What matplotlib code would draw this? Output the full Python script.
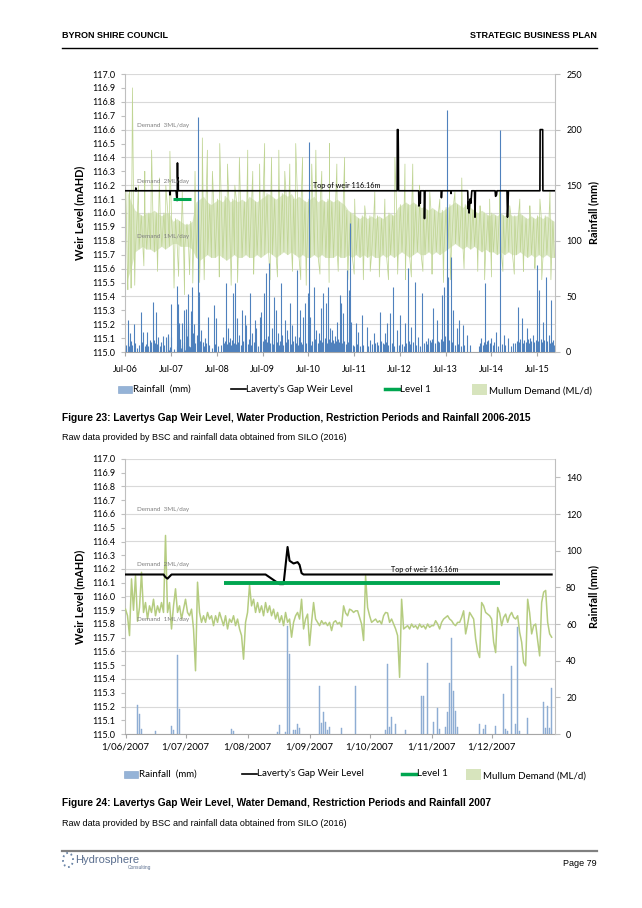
import numpy as np
import pandas as pd
import matplotlib
matplotlib.use('Agg')
import matplotlib.pyplot as plt
import matplotlib.dates as mdates
import matplotlib.transforms as mtrans
from matplotlib.lines import Line2D
from matplotlib.patches import Rectangle, Circle
from matplotlib.ticker import FuncFormatter, MultipleLocator

plt.rcParams['font.family'] = ['Lato', 'DejaVu Sans']

# ---------------- Figure 24 data (daily, June - December 2007) ----------------
rain2_dates = ['2007-06-07', '2007-06-08', '2007-06-09', '2007-06-16', '2007-06-24', '2007-06-25',
               '2007-06-27', '2007-06-28', '2007-07-24', '2007-07-25', '2007-08-16', '2007-08-17',
               '2007-08-20', '2007-08-21', '2007-08-22', '2007-08-24', '2007-08-25', '2007-08-26',
               '2007-08-27', '2007-09-06', '2007-09-07', '2007-09-08', '2007-09-09', '2007-09-10',
               '2007-09-11', '2007-09-17', '2007-09-24', '2007-10-09', '2007-10-10', '2007-10-11',
               '2007-10-12', '2007-10-14', '2007-10-19', '2007-10-27', '2007-10-28', '2007-10-30',
               '2007-11-02', '2007-11-04', '2007-11-05', '2007-11-08', '2007-11-09', '2007-11-10',
               '2007-11-11', '2007-11-12', '2007-11-13', '2007-11-14', '2007-11-25', '2007-11-27',
               '2007-11-28', '2007-12-03', '2007-12-07', '2007-12-08', '2007-12-09', '2007-12-11',
               '2007-12-13', '2007-12-14', '2007-12-15', '2007-12-19', '2007-12-27', '2007-12-28',
               '2007-12-29', '2007-12-30', '2007-12-31']
rain2_mm = [15.8, 11, 3, 1.5, 4.5, 2, 43, 13.5, 3, 1.5, 1, 5,
            1, 59, 43.5, 2, 2, 5.5, 3.5, 26, 6, 12, 6.7, 2,
            4, 3.5, 26.3, 2, 38, 4, 9.4, 5.7, 2, 21, 21, 39,
            6.6, 14, 2.8, 4, 12, 27.8, 52.5, 23.4, 12.5, 3.6, 5.3, 3,
            4.8, 4.4, 21.6, 2.5, 1.5, 37.2, 5.2, 58.4, 1.5, 8.9, 17.3, 3.5,
            15.4, 3.5, 24.9]

# Mullum demand (ML/d), one value per day from 1 June 2007
demand2 = [1.27, 1.15, 0.79, 1.82, 1.25, 1.88, 1.05, 1.30, 1.94, 1.21,
           1.39, 1.09, 1.33, 1.21, 1.45, 1.15, 1.33, 1.21, 1.39, 1.21,
           2.61, 1.21, 1.39, 0.91, 1.33, 1.64, 1.21, 1.33, 1.09, 1.27,
           1.45, 1.21, 1.15, 1.27, 0.91, 0.15, 1.76, 1.21, 1.03, 1.15,
           1.03, 1.21, 1.09, 1.15, 0.97, 1.15, 1.03, 1.21, 1.09, 0.97,
           1.15, 0.91, 1.09, 1.03, 1.15, 0.97, 1.09, 0.91, 0.79, 0.36,
           1.03, 1.21, 1.71, 1.33, 1.45, 1.21, 1.39, 1.21, 1.33, 1.15,
           1.39, 1.21, 1.33, 1.15, 1.27, 1.09, 1.21, 1.03, 1.15, 0.97,
           1.21, 1.03, 1.09, 0.76, 1.03, 1.15, 1.21, 1.09, 1.45, 0.91,
           1.09, 1.18, 0.61, 1.03, 1.39, 1.09, 1.03, 0.97, 1.06, 1.00,
           1.03, 0.97, 1.03, 0.88, 1.03, 1.06, 1.00, 1.03,
           0.95, 1.33, 1.20, 1.15, 1.27, 1.25, 1.21, 1.24, 1.24, 1.12,
           1.00, 0.70, 1.88, 1.30, 1.15, 1.03, 1.06, 1.09, 1.03, 1.06,
           1.00, 1.15, 1.21, 1.20, 1.03, 1.09, 1.00, 0.91, 0.79, 0.03,
           1.45, 0.91, 0.94, 0.97, 0.91, 1.00, 0.94, 0.97, 0.91, 1.00,
           0.94, 0.97, 0.91, 1.00, 0.94, 0.97, 0.97, 1.06, 1.00, 0.91,
           1.03, 1.09, 1.12, 1.15, 1.09, 1.06, 1.00, 0.97, 1.03, 1.03,
           1.12, 1.24, 0.82, 1.00, 1.21, 1.15, 1.09, 0.73, 0.50, 0.39,
           1.39, 1.33, 1.21, 1.18, 1.15, 1.09, 0.67, 0.48, 1.30, 1.20,
           0.97, 1.12, 1.18, 1.03, 1.15, 1.21, 1.12, 1.09, 1.15, 0.85,
           0.67, 0.30, 0.24, 1.45, 1.20, 0.82, 0.97, 1.00, 0.70, 0.42,
           1.39, 1.58, 1.61, 1.03, 0.82, 0.76]

weir2_dates = ['2007-06-01', '2007-06-20', '2007-06-21', '2007-06-22', '2007-06-24', '2007-08-10',
               '2007-08-14', '2007-08-17', '2007-08-19', '2007-08-21', '2007-08-22', '2007-08-24',
               '2007-08-26', '2007-08-27', '2007-08-28', '2007-08-29', '2007-12-31']
weir2_level = [116.16, 116.16, 116.14, 116.13, 116.16, 116.16,
               116.12, 116.09, 116.09, 116.36, 116.26, 116.24,
               116.25, 116.23, 116.17, 116.16, 116.16]

level1_dates = ['2007-07-20', '2007-12-05']
level1_value = [116.10, 116.10]

# ---------------- Figure 23 data (2006 - 2015), times as decimal years ----------------
weir1_year_a = [2006.49, 2006.72, 2006.725, 2006.735, 2007.41]
weir1_level_a = [116.16, 116.16, 116.18, 116.16, 116.16]
weir1_year_b = [2012.44, 2012.443, 2012.46, 2012.465, 2012.47,
                2012.91, 2012.915, 2012.93, 2012.945, 2012.95,
                2013.03, 2013.035, 2013.045, 2013.40, 2013.405, 2013.415,
                2013.61, 2013.615, 2013.62,
                2013.98, 2013.99, 2014.00, 2014.01, 2014.03, 2014.05, 2014.07,
                2014.13, 2014.14, 2014.15, 2014.58, 2014.59, 2014.61, 2014.62,
                2014.84, 2014.85, 2014.86, 2014.87,
                2015.56, 2015.565, 2015.62, 2015.625, 2015.89]
weir1_level_b = [116.16, 116.6, 116.6, 116.45, 116.16,
                 116.16, 116.05, 116.12, 116.07, 116.16,
                 116.16, 115.96, 116.16, 116.16, 116.11, 116.16,
                 116.16, 116.14, 116.16,
                 116.16, 116.03, 116.08, 116.0, 116.10, 116.07, 116.16,
                 116.16, 115.97, 116.16, 116.16, 116.12, 116.13, 116.16,
                 116.16, 115.97, 116.05, 116.16,
                 116.16, 116.6, 116.6, 116.16, 116.16]

rain1_year = [2006.51, 2006.55, 2006.60, 2006.68, 2006.83, 2006.88, 2006.97, 2007.03, 2007.11, 2007.17,
              2007.22, 2007.32, 2007.38, 2007.43,
              2008.06, 2008.08, 2008.10, 2008.16, 2008.23, 2008.30, 2008.43, 2008.47, 2008.63, 2008.70,
              2008.74, 2008.79, 2008.85, 2008.90, 2008.94, 2008.99, 2009.05, 2009.10, 2009.14, 2009.21,
              2009.27, 2009.32, 2009.36, 2009.43, 2009.47, 2009.52, 2009.58, 2009.64, 2009.69, 2009.75,
              2009.78, 2009.83, 2009.89, 2009.93, 2009.98, 2010.04, 2010.09, 2010.14, 2010.20, 2010.25,
              2010.29, 2010.32, 2010.38, 2010.42, 2010.49, 2010.51, 2010.53, 2010.61, 2010.67, 2010.73,
              2010.78, 2010.82, 2010.89, 2010.93, 2010.98, 2011.02, 2011.08, 2011.12, 2011.18, 2011.22,
              2011.25, 2011.34, 2011.39, 2011.41, 2011.44, 2011.53, 2011.58, 2011.66, 2011.77, 2011.84,
              2011.93, 2012.06, 2012.17, 2012.22, 2012.29, 2012.35, 2012.44, 2012.50, 2012.61, 2012.68,
              2012.75, 2012.82, 2012.90, 2012.99, 2013.12, 2013.23, 2013.30, 2013.41, 2013.46, 2013.52,
              2013.55, 2013.61, 2013.66, 2013.74, 2013.79, 2013.87, 2013.96, 2014.03, 2014.28, 2014.36,
              2014.43, 2014.50, 2014.60, 2014.68, 2014.77, 2014.87, 2014.97, 2015.08, 2015.16, 2015.27,
              2015.34, 2015.41, 2015.49, 2015.54, 2015.62, 2015.69, 2015.76, 2015.81, 2015.85]
rain1_mm = [6.3, 28.8, 16.8, 25.2, 36.2, 18.2, 18.2, 10.8, 45.2, 36.2,
            13.2, 14.4, 13.2, 14.4,
            15.3, 211, 54.3, 19.8, 12.3, 31.8, 42.3, 30.3, 13.2, 61.8,
            21.3, 12.3, 52.8, 61.8, 30.3, 15.3, 37.8, 33.3, 24.3, 52.8,
            16.8, 28.8, 21.3, 31.8, 36.3, 52.8, 70.8, 79.8, 21.3, 49.8,
            37.8, 16.8, 61.8, 15.3, 28.8, 19.8, 43.8, 24.3, 14.4, 73.8,
            13.8, 37.8, 31.8, 43.8, 52.8, 189, 31.8, 58.8, 19.8, 16.8,
            39.3, 52.8, 43.8, 58.8, 21.3, 19.8, 14.4, 27.3, 51.3, 43.8,
            34.8, 73.8, 55.8, 116, 27.3, 25.8, 18.2, 33.3, 22.8, 10.8,
            16.8, 36.3, 16.8, 25.8, 34.8, 58.8, 19.8, 33.3, 25.8, 75.3,
            22.8, 63, 13.8, 52.8, 12.3, 39.3, 28.8, 51.3, 58.8, 218,
            67.8, 85.7, 37.8, 21.3, 28.8, 24.3, 15.3, 6.3, 12.3, 61.8,
            10.8, 12.3, 18.2, 200, 15.3, 12.3, 7.8, 40.8, 30.3, 21.3,
            12.3, 15.3, 78.2, 55.8, 27.3, 67.8, 15.3, 46.8, 10.8]

# smaller daily falls that make up the base of the bar series
rain1_small_year = [2006.52, 2006.56, 2006.58, 2006.62, 2006.64, 2006.70, 2006.74, 2006.80, 2006.86, 2006.92,
                    2006.95, 2007.00, 2007.06, 2007.09, 2007.13, 2007.15, 2007.19, 2007.25, 2007.28, 2007.35,
                    2008.03, 2008.12, 2008.14, 2008.19, 2008.21, 2008.26, 2008.33, 2008.38, 2008.45, 2008.52,
                    2008.58, 2008.66, 2008.68, 2008.72, 2008.77, 2008.81, 2008.83, 2008.87, 2008.92, 2008.96,
                    2009.02, 2009.07, 2009.12, 2009.17, 2009.19, 2009.24, 2009.30, 2009.34, 2009.39, 2009.45,
                    2009.50, 2009.55, 2009.60, 2009.62, 2009.66, 2009.71, 2009.73, 2009.80, 2009.85, 2009.87,
                    2009.91, 2009.95, 2010.01, 2010.06, 2010.11, 2010.16, 2010.22, 2010.27, 2010.34, 2010.36,
                    2010.45, 2010.55, 2010.58, 2010.63, 2010.65, 2010.70, 2010.75, 2010.80, 2010.85, 2010.87,
                    2010.91, 2010.95, 2011.00, 2011.04, 2011.06, 2011.10, 2011.14, 2011.16, 2011.20, 2011.24,
                    2011.28, 2011.31, 2011.36, 2011.47, 2011.50, 2011.56, 2011.62, 2011.70, 2011.80, 2011.88,
                    2011.95, 2012.00, 2012.03, 2012.09, 2012.12, 2012.15, 2012.20, 2012.25, 2012.32, 2012.38,
                    2012.47, 2012.55, 2012.58, 2012.64, 2012.70, 2012.72, 2012.78, 2012.85, 2012.93, 2013.02,
                    2013.06, 2013.09, 2013.15, 2013.18, 2013.21, 2013.26, 2013.33, 2013.36, 2013.39, 2013.44,
                    2013.49, 2013.57, 2013.64, 2013.70, 2013.77, 2013.83, 2013.90, 2014.22, 2014.26, 2014.31,
                    2014.34, 2014.39, 2014.41, 2014.46, 2014.53, 2014.56, 2014.64, 2014.72, 2014.80, 2014.93,
                    2015.02, 2015.05, 2015.11, 2015.13, 2015.19, 2015.22, 2015.25, 2015.30, 2015.32, 2015.37,
                    2015.44, 2015.47, 2015.52, 2015.58, 2015.60, 2015.65, 2015.72, 2015.78, 2015.83, 2015.87]
rain1_small_mm = [4, 8, 5, 10, 6, 8, 4, 6, 9, 5,
                  7, 5, 9, 6, 11, 8, 7, 5, 9, 6,
                  8, 10, 7, 9, 5, 8, 6, 4, 7, 5,
                  6, 8, 10, 7, 9, 6, 11, 8, 7, 9,
                  6, 10, 8, 7, 12, 6, 9, 7, 5, 8,
                  10, 12, 9, 14, 8, 11, 7, 9, 6, 10,
                  8, 6, 9, 12, 7, 10, 8, 6, 9, 7,
                  8, 6, 10, 9, 12, 8, 11, 9, 13, 10,
                  8, 12, 9, 11, 8, 10, 12, 9, 11, 8,
                  10, 7, 9, 6, 5, 7, 5, 6, 5, 7,
                  8, 9, 6, 10, 8, 7, 9, 6, 8, 5,
                  6, 7, 5, 8, 10, 7, 9, 6, 5, 8,
                  10, 7, 11, 9, 12, 8, 10, 9, 12, 10,
                  14, 11, 9, 6, 7, 5, 6, 5, 8, 6,
                  9, 7, 10, 8, 6, 9, 5, 7, 6, 5,
                  8, 10, 9, 12, 8, 11, 9, 12, 8, 10,
                  9, 11, 10, 12, 9, 11, 10, 8, 9, 6]

# Mullum demand (ML/d): usual upper / lower edge of the daily trace per month, Jul 2006 - Nov 2015
demand1_upper = [1.9, 1.7, 1.55, 1.5, 1.45, 1.5,
                 1.5, 1.55, 1.5, 1.45, 1.5, 1.5, 1.35, 1.4, 1.35, 1.3, 1.3, 1.35,
                 1.7, 1.75, 1.8, 1.7, 1.65, 1.7, 1.75, 1.7, 1.8, 1.7, 1.75, 1.7,
                 1.75, 1.7, 1.8, 1.75, 1.7, 1.75, 1.8, 1.85, 1.8, 1.75, 1.8, 1.85,
                 1.8, 1.85, 1.75, 1.8, 1.75, 1.7, 1.75, 1.8, 1.7, 1.75, 1.7, 1.75,
                 1.7, 1.75, 1.7, 1.65, 1.55, 1.5, 1.45, 1.4, 1.45, 1.4, 1.45, 1.4,
                 1.45, 1.4, 1.45, 1.5, 1.45, 1.6, 1.65, 1.7, 1.65, 1.7, 1.65, 1.6,
                 1.6, 1.55, 1.6, 1.55, 1.5, 1.55, 1.6, 1.65, 1.7, 1.65, 1.6, 1.65,
                 1.6, 1.55, 1.5, 1.55, 1.5, 1.45, 1.5, 1.45, 1.5, 1.45, 1.5, 1.45,
                 1.45, 1.5, 1.45, 1.4, 1.45, 1.4, 1.45, 1.4, 1.45, 1.4, 1.35]
demand1_lower = [0.3, 0.5, 0.8, 0.85, 0.9, 0.85,
                 0.85, 0.8, 0.85, 0.9, 0.85, 0.9, 0.95, 0.95, 0.9, 0.9, 0.9, 0.85,
                 0.7, 0.65, 0.7, 0.75, 0.7, 0.7, 0.75, 0.7, 0.65, 0.7, 0.75, 0.7,
                 0.7, 0.75, 0.7, 0.7, 0.75, 0.7, 0.75, 0.8, 0.75, 0.7, 0.75, 0.8,
                 0.75, 0.8, 0.75, 0.7, 0.75, 0.7, 0.7, 0.75, 0.7, 0.75, 0.7, 0.7,
                 0.7, 0.75, 0.7, 0.7, 0.75, 0.7, 0.75, 0.7, 0.75, 0.7, 0.75, 0.7,
                 0.7, 0.75, 0.7, 0.75, 0.7, 0.75, 0.8, 0.75, 0.7, 0.75, 0.8, 0.75,
                 0.75, 0.8, 0.75, 0.8, 0.75, 0.8, 0.85, 0.9, 0.95, 0.9, 0.85, 0.9,
                 0.85, 0.9, 0.85, 0.8, 0.85, 0.8, 0.8, 0.75, 0.8, 0.75, 0.8, 0.75,
                 0.75, 0.8, 0.75, 0.7, 0.75, 0.7, 0.75, 0.7, 0.75, 0.7, 0.7]
# isolated high and low days of the demand trace
demand1_peak_year = [2006.59, 2006.65, 2006.78, 2006.92, 2007.07, 2007.24, 2007.38, 2007.47, 2007.74,
                     2008.02, 2008.18, 2008.29, 2008.40, 2008.56, 2008.73, 2008.89, 2008.99, 2009.17,
                     2009.28, 2009.43, 2009.54, 2009.69, 2009.85, 2009.98, 2010.09, 2010.22, 2010.37,
                     2010.57, 2010.66, 2010.79, 2010.96, 2011.12, 2011.29, 2011.51, 2011.73, 2011.95,
                     2012.17, 2012.39, 2012.61, 2012.78, 2012.93, 2013.15, 2013.37, 2013.70, 2013.85,
                     2014.03, 2014.25, 2014.46, 2014.68, 2014.90, 2015.12, 2015.34, 2015.56, 2015.78]
demand1_peak = [1.9, 3.75, 2.0, 2.25, 2.63, 2.13, 2.0, 2.61, 1.88,
                2.25, 2.85, 2.63, 2.25, 2.75, 2.38, 2.0, 2.5, 2.63,
                2.25, 2.38, 2.75, 2.5, 2.63, 2.25, 2.38, 2.75, 2.5,
                2.38, 2.63, 2.25, 2.75, 2.38, 2.5, 1.75, 1.63, 1.88,
                1.75, 2.5, 2.38, 2.38, 2.0, 1.88, 1.75, 1.88, 2.13,
                1.75, 1.63, 1.75, 1.88, 1.63, 1.75, 1.63, 1.75, 1.88]
demand1_low_year = [2006.55, 2006.62, 2006.70, 2006.90, 2007.20, 2007.56, 2007.66, 2007.79, 2007.90, 2007.97,
                    2008.12, 2008.22, 2008.55, 2008.81, 2008.95, 2009.30, 2009.66, 2009.82, 2010.15, 2010.33,
                    2010.45, 2010.75, 2010.95, 2011.15, 2011.36, 2011.50, 2011.70, 2011.85, 2012.05, 2012.25,
                    2012.45, 2012.62, 2012.75, 2013.00, 2013.20, 2013.45, 2013.60, 2013.90, 2014.20, 2014.35,
                    2014.50, 2014.75, 2015.00, 2015.20, 2015.45, 2015.60, 2015.80]
demand1_low = [0.12, 0.15, 0.2, 0.55, 0.45, 0.15, 0.36, 0.03, 0.39, 0.24,
               0.25, 0.3, 0.35, 0.2, 0.25, 0.4, 0.3, 0.35, 0.45, 0.3,
               0.2, 0.4, 0.25, 0.45, 0.3, 0.4, 0.3, 0.45, 0.35, 0.3,
               0.4, 0.3, 0.35, 0.45, 0.4, 0.25, 0.3, 0.5, 0.45, 0.3,
               0.35, 0.45, 0.4, 0.45, 0.5, 0.3, 0.3]

# ---------------- helpers ----------------
W, H = 642, 908


def fx(x):
    return x / W


def fy(y):
    return 1 - y / H


def yr2ts(values):
    out = []
    for v in values:
        y = int(v)
        out.append(pd.Timestamp(y, 1, 1) + pd.Timedelta(days=(v - y) * 365.25))
    return pd.DatetimeIndex(out)


fig = plt.figure(figsize=(W / 100, H / 100), dpi=100)
fig.patch.set_facecolor('white')

GRID = '#D9D9D9'
SPINE = '#BFBFBF'


def make_axes(rect, rain_max, rain_step):
    ax = fig.add_axes(rect, zorder=1)
    ax.set_ylim(115.0, 117.0)
    ax.yaxis.set_major_locator(MultipleLocator(0.1))
    ax.yaxis.set_major_formatter(FuncFormatter(lambda v, p: f'{v:.1f}'))
    for v in np.arange(115.0, 117.01, 0.2):
        ax.axhline(v, color=GRID, lw=0.8, zorder=0)
    for s in ['top', 'right']:
        ax.spines[s].set_visible(False)
    ax.spines['left'].set_color(SPINE)
    ax.spines['bottom'].set_color('#A6A6A6')
    ax.tick_params(axis='y', length=3, color=SPINE, labelsize=6.5, pad=4)
    ax.tick_params(axis='x', length=3, color='#A6A6A6', labelsize=6.5)
    ax.set_ylabel('Weir Level (mAHD)', fontsize=7.8, fontweight='bold')
    ax.yaxis.set_label_coords(-0.093, 0.5)

    axd = ax.twinx()
    axd.set_zorder(2)
    axd.set_ylim(-1.0, 4.0)
    axd.axis('off')

    axr = ax.twinx()
    axr.set_zorder(3)
    axr.set_ylim(0, rain_max)
    axr.yaxis.set_major_locator(MultipleLocator(rain_step))
    for s in ['top', 'left', 'bottom']:
        axr.spines[s].set_visible(False)
    axr.spines['right'].set_color(SPINE)
    axr.tick_params(axis='y', length=3.5, color=SPINE, labelsize=6.5, pad=4.5)
    axr.set_ylabel('Rainfall (mm)', fontsize=7.8, fontweight='bold', rotation=90)
    axr.yaxis.set_label_coords(1.077, 0.5)

    axt = ax.twinx()
    axt.set_zorder(4)
    axt.set_ylim(115.0, 117.0)
    axt.axis('off')
    return ax, axd, axr, axt


def annotate(axt, weir_x):
    tr = mtrans.blended_transform_factory(axt.transAxes, axt.transData)
    for lvl, txt in [(116.63, 'Demand  3ML/day'), (116.23, 'Demand  2ML/day'), (115.83, 'Demand  1ML/day')]:
        axt.text(0.0286, lvl, txt, transform=tr, fontsize=4.5, color='#7F7F7F', va='center', ha='left')
    axt.text(weir_x, 116.195, 'Top of weir 116.16m', transform=tr, fontsize=5.2, color='black',
             va='center', ha='center')


def legend(y, rain_x, weir_x, lvl_x, dem_x, rain_col):
    fig.add_artist(Rectangle((fx(rain_x), fy(y + 3.5)), 14 / W, 7 / H, transform=fig.transFigure,
                             facecolor=rain_col, edgecolor='#7F9FC8', lw=0.4))
    fig.text(fx(rain_x + 15), fy(y), 'Rainfall  (mm)', fontsize=7, va='center', ha='left')
    fig.add_artist(Line2D([fx(weir_x), fx(weir_x + 15)], [fy(y)] * 2, color='black', lw=1.2))
    fig.text(fx(weir_x + 15), fy(y), "Laverty's Gap Weir Level", fontsize=7, va='center', ha='left')
    fig.add_artist(Line2D([fx(lvl_x), fx(lvl_x + 14)], [fy(y)] * 2, color='#00A650', lw=2.5))
    fig.text(fx(lvl_x + 15), fy(y), 'Level 1', fontsize=7, va='center', ha='left')
    fig.add_artist(Rectangle((fx(dem_x), fy(y + 6)), 15 / W, 11 / H, transform=fig.transFigure,
                             facecolor='#D7E4BD', edgecolor='none'))
    fig.text(fx(dem_x + 17), fy(y + 2), 'Mullum Demand (ML/d)', fontsize=7, va='center', ha='left')


# ---------------- Figure 23 ----------------
ax1, axd1, axr1, axt1 = make_axes([fx(125), fy(352), 430 / W, 278 / H], 250, 50)
ax1.set_xlim(pd.Timestamp('2006-06-28'), pd.Timestamp('2015-11-22'))
ax1.xaxis.set_major_locator(mdates.MonthLocator(bymonth=7, bymonthday=1))
ax1.xaxis.set_major_formatter(mdates.DateFormatter('%b-%y'))
ax1.tick_params(axis='x', pad=6)

months = pd.date_range('2006-07-01', periods=len(demand1_upper), freq='MS')
axd1.fill_between(months + pd.Timedelta(days=14), demand1_lower, demand1_upper,
                  color='#DCE8C6', lw=0)
dem = pd.concat([
    pd.Series(demand1_upper, index=months + pd.Timedelta(days=4)),
    pd.Series(demand1_lower, index=months + pd.Timedelta(days=17)),
    pd.Series(demand1_peak, index=yr2ts(demand1_peak_year)),
    pd.Series(demand1_low, index=yr2ts(demand1_low_year)),
]).sort_index()
axd1.plot(dem.index, dem.values, color='#C0D594', lw=0.55)

axr1.vlines(yr2ts(rain1_small_year), 0, rain1_small_mm, color='#4F81BD', lw=0.8)
axr1.vlines(yr2ts(rain1_year), 0, rain1_mm, color='#4F81BD', lw=0.8)
axr1.vlines(pd.to_datetime(rain2_dates), 0, rain2_mm, color='#4F81BD', lw=0.8)

weir1_x = list(yr2ts(weir1_year_a)) + list(pd.to_datetime(weir2_dates)) + list(yr2ts(weir1_year_b))
weir1_y = weir1_level_a + weir2_level + weir1_level_b
axt1.plot(weir1_x, weir1_y, color='black', lw=1.2)
axt1.plot(pd.to_datetime(level1_dates), level1_value, color='#00A650', lw=2.2, solid_capstyle='butt')
annotate(axt1, 0.516)
legend(389, 118, 231, 385, 472, '#95B3D7')

# ---------------- Figure 24 ----------------
ax2, axd2, axr2, axt2 = make_axes([fx(125), fy(734), 430 / W, 275 / H], 150, 20)
ax2.set_xlim(pd.Timestamp('2007-05-31 18:00'), pd.Timestamp('2008-01-01 16:00'))
ax2.xaxis.set_major_formatter(FuncFormatter(
    lambda v, p: f'{mdates.num2date(v).day}/{mdates.num2date(v).month:02d}/{mdates.num2date(v).year}'))
ax2.set_xticks(pd.date_range('2007-06-01', '2007-12-01', freq='MS'))
ax2.tick_params(axis='x', pad=3, labelsize=7)

days2 = pd.date_range('2007-06-01', periods=len(demand2), freq='D')
axd2.plot(days2, demand2, color='#B5CC80', lw=1.1)
axr2.bar(pd.to_datetime(rain2_dates), rain2_mm, width=0.75, color='#95B3D7', edgecolor='#86A6CF', lw=0.3)
axt2.plot(pd.to_datetime(weir2_dates), weir2_level, color='black', lw=1.5)
axt2.plot(pd.to_datetime(level1_dates), level1_value, color='#00A650', lw=2.8, solid_capstyle='butt')
annotate(axt2, 0.698)
legend(774, 124, 242, 402, 466, '#95B3D7')

# ---------------- page furniture ----------------
page_font = ['Liberation Sans', 'DejaVu Sans']
fig.text(fx(62), fy(35), 'BYRON SHIRE COUNCIL', family=page_font, fontweight='bold', fontsize=6.5,
         va='center', ha='left')
fig.text(fx(597), fy(35), 'STRATEGIC BUSINESS PLAN', family=page_font, fontweight='bold', fontsize=6.5,
         va='center', ha='right')
fig.add_artist(Line2D([fx(62), fx(597)], [fy(48)] * 2, color='black', lw=1.0))

fig.text(fx(62), fy(418), 'Figure 23: Lavertys Gap Weir Level, Water Production, Restriction Periods and Rainfall 2006-2015',
         family=page_font, fontweight='bold', fontsize=7.3, va='center', ha='left')
fig.text(fx(62), fy(438), 'Raw data provided by BSC and rainfall data obtained from SILO (2016)',
         family=page_font, fontsize=6.5, va='center', ha='left')
fig.text(fx(62), fy(803), 'Figure 24: Lavertys Gap Weir Level, Water Demand, Restriction Periods and Rainfall 2007',
         family=page_font, fontweight='bold', fontsize=7.3, va='center', ha='left')
fig.text(fx(62), fy(824), 'Raw data provided by BSC and rainfall data obtained from SILO (2016)',
         family=page_font, fontsize=6.5, va='center', ha='left')

fig.add_artist(Line2D([fx(62), fx(597)], [fy(851)] * 2, color='#808080', lw=1.6))
fig.add_artist(Circle((fx(68), fy(860)), 5 / W, transform=fig.transFigure, fill=False,
                      edgecolor='#6C86A8', lw=1.3, linestyle=':'))
fig.text(fx(75), fy(860), 'Hydrosphere', family=page_font, fontsize=8, color='#5B6F8F', va='center', ha='left')
fig.text(fx(128), fy(868), 'Consulting', family=page_font, fontsize=3.5, color='#5B6F8F', va='center', ha='left')
fig.text(fx(597), fy(864), 'Page 79', family=page_font, fontsize=6.5, va='center', ha='right')

fig.savefig('out.png', dpi=100)
